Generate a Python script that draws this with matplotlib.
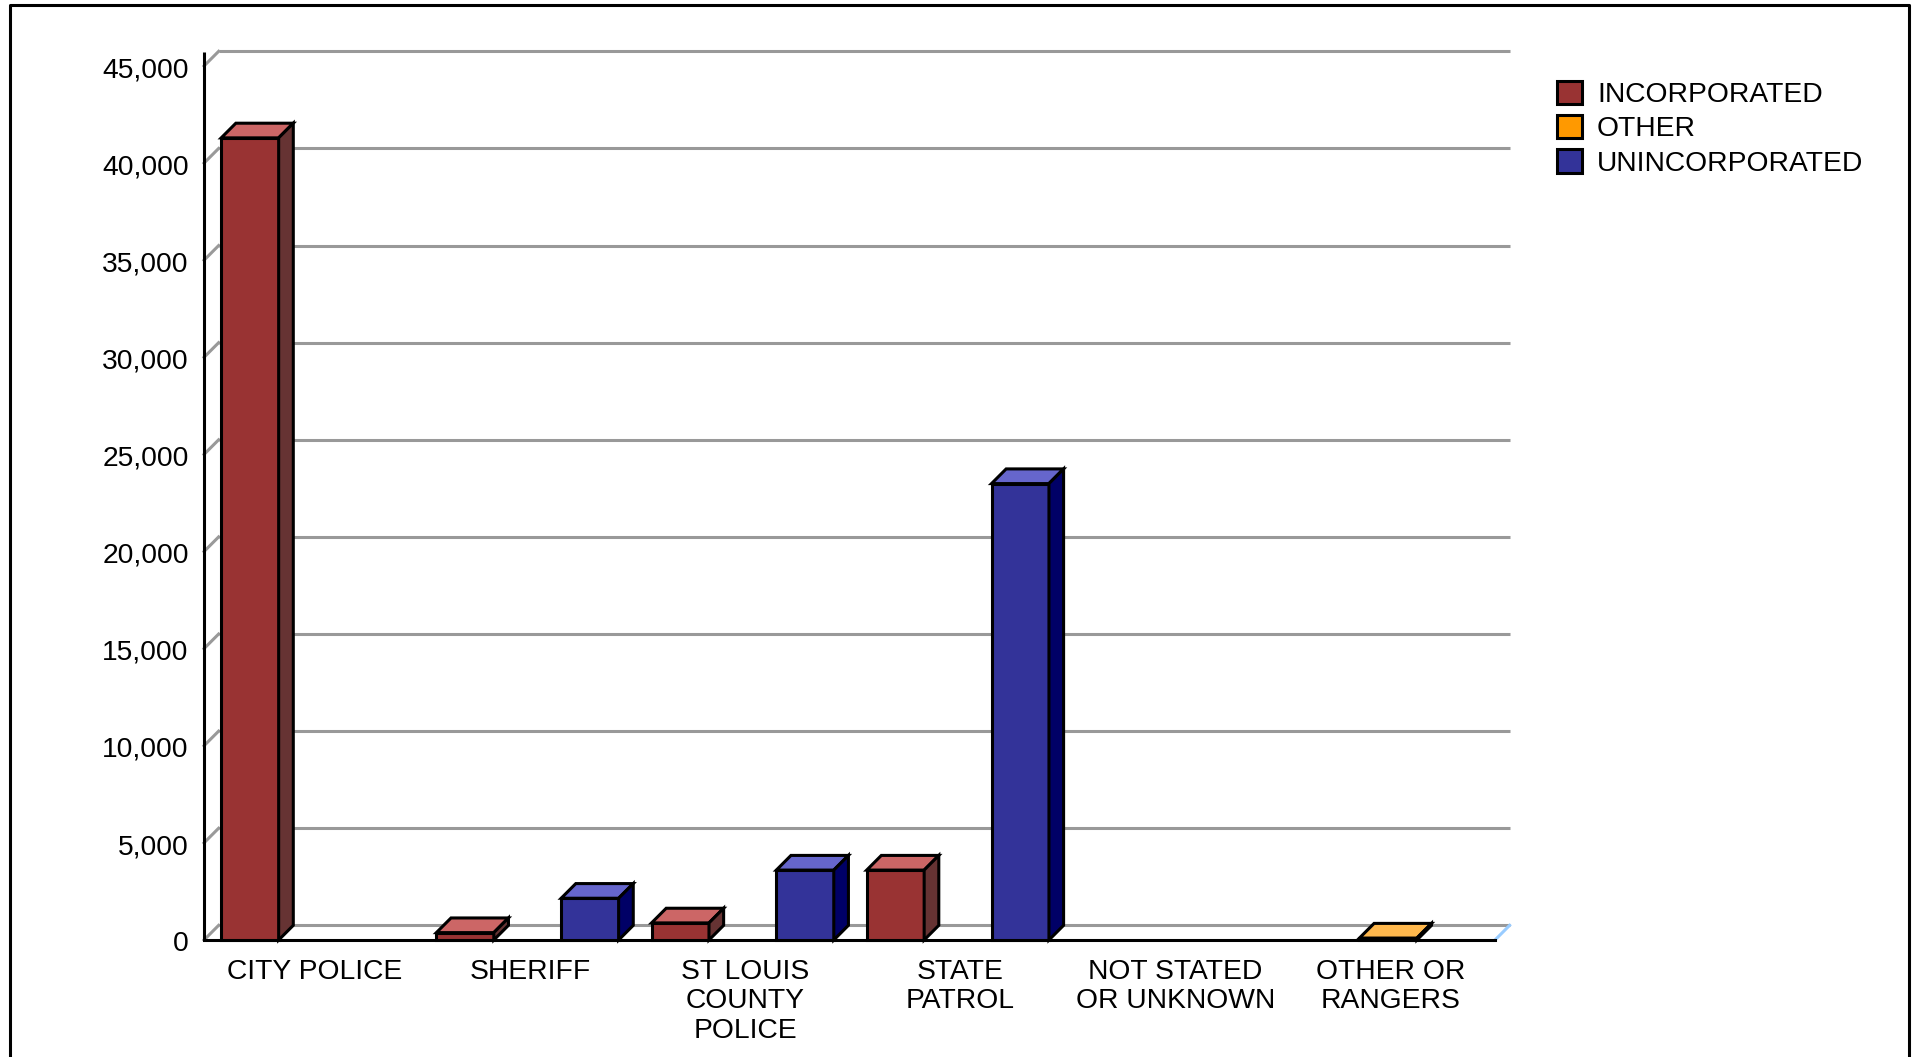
import matplotlib as mpl
mpl.use('Agg')
import matplotlib.pyplot as plt
from matplotlib.lines import Line2D
from matplotlib.patches import Patch, Polygon
from matplotlib.transforms import ScaledTranslation

plt.rcParams['font.family'] = ['Liberation Sans', 'DejaVu Sans']

categories = ['CITY POLICE', 'SHERIFF', 'ST LOUIS\nCOUNTY\nPOLICE', 'STATE\nPATROL',
              'NOT STATED\nOR UNKNOWN', 'OTHER OR\nRANGERS']
incorporated = [41300, 380, 880, 3600, 0, 0]
other = [0, 0, 0, 0, 0, 100]
unincorporated = [0, 2150, 3600, 23500, 0, 0]
y_ticks = [0, 5000, 10000, 15000, 20000, 25000, 30000, 35000, 40000, 45000]

# name, values, front, top, side
series = [('INCORPORATED', incorporated, '#993333', '#CC6666', '#663333'),
          ('OTHER', other, '#FF9900', '#FFB84D', '#996600'),
          ('UNINCORPORATED', unincorporated, '#333399', '#6666CC', '#000066')]

W, H = 1917, 1057
LW = 2.2
FS = 20.3
fig = plt.figure(figsize=(W / 100, H / 100), dpi=100)
ax = fig.add_axes([204 / W, 1 - 940 / H, (1495 - 204) / W, (940 - 66) / H])
ax.set_xlim(0, 6)
ax.set_ylim(0, 45000)

# fake 3d depth, in data units
dx = 0.068
dy = 755
bar_w = 0.267
step = 0.29
start = 0.08

# back wall
for v in y_ticks:
    ax.plot([dx, 6 + dx], [v + dy, v + dy], color='#999999', lw=2.2, clip_on=False, zorder=1,
            solid_capstyle='butt')
    ax.plot([0, dx], [v, v + dy], color='#999999', lw=2.2, clip_on=False, zorder=1)
ax.plot([6, 6 + dx], [0, dy], color='#99CCFF', lw=2.2, clip_on=False, zorder=1)

for i, (name, values, front, top, side) in enumerate(series):
    for k, v in enumerate(values):
        if v <= 0:
            continue
        x0 = k + start + step * i
        x1 = x0 + bar_w
        ax.bar(x0, v, width=bar_w, align='edge', color=front, edgecolor='black', lw=LW,
               clip_on=False, zorder=3)
        ax.add_patch(Polygon([(x0, v), (x1, v), (x1 + dx, v + dy), (x0 + dx, v + dy)],
                             fc=top, ec='black', lw=LW, clip_on=False, zorder=3))
        ax.add_patch(Polygon([(x1, 0), (x1 + dx, dy), (x1 + dx, v + dy), (x1, v)],
                             fc=side, ec='black', lw=LW, clip_on=False, zorder=3))

for s in ['top', 'right', 'left']:
    ax.spines[s].set_visible(False)
ax.spines['bottom'].set_linewidth(LW)
ax.spines['bottom'].set_zorder(2)
# y axis line sticks out a little above the top tick
ax.plot([0, 0], [0, 45700], color='black', lw=LW, clip_on=False, zorder=2, solid_capstyle='butt')

ax.set_yticks(y_ticks)
ax.set_yticklabels([f'{v:,}' for v in y_ticks], fontsize=FS)
ax.set_xticks([k + 0.515 for k in range(6)])
ax.set_xticklabels(categories, fontsize=FS, linespacing=1.18)
ax.tick_params(axis='y', length=0, pad=11)
ax.tick_params(axis='x', length=0, pad=13.5)
down = ScaledTranslation(0, -0.8 / 72, fig.dpi_scale_trans)
for lab in ax.get_yticklabels():
    lab.set_transform(lab.get_transform() + down)

handles = [Patch(fc=s[2], ec='black', lw=LW) for s in series]
fig.legend(handles, [s[0] for s in series], fontsize=FS, frameon=False,
           loc='upper left', bbox_to_anchor=(1557 / W, 1 - 80.5 / H), borderaxespad=0, borderpad=0,
           handlelength=0.9, handleheight=0.9, handletextpad=0.52, labelspacing=0.25)

# outer frame, runs off the bottom of the image
fig.add_artist(Line2D([10 / W, 10 / W, 1909 / W, 1909 / W], [0, 1 - 5 / H, 1 - 5 / H, 0],
                      color='black', lw=LW, transform=fig.transFigure))

plt.savefig('out.png', dpi=100)
